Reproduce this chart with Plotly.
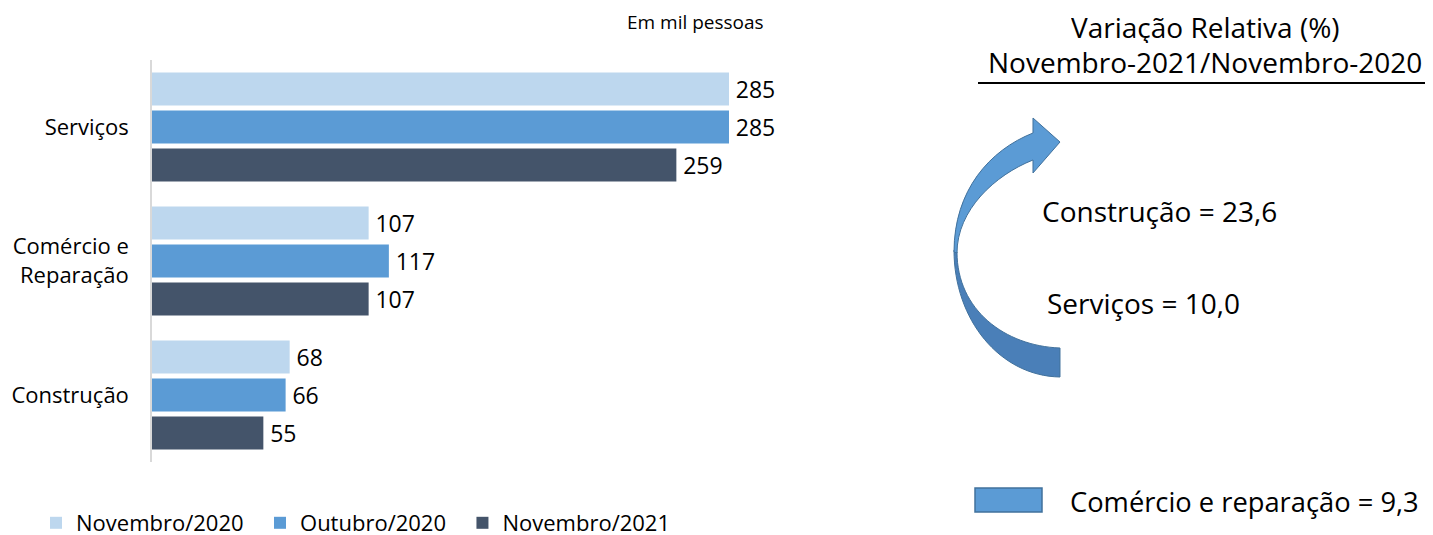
import plotly.graph_objects as go

W, H = 1433, 535

categories = ["Serviços", "Comércio e<br>Reparação", "Construção"]
series_names = ["Novembro/2020", "Outubro/2020", "Novembro/2021"]
nov2020 = [285, 107, 68]
out2020 = [285, 117, 66]
nov2021 = [259, 107, 55]
series_values = [nov2020, out2020, nov2021]
colors = ["#bdd7ee", "#5b9bd5", "#44546a"]

unit_label = "Em mil pessoas"
var_title = "Variação Relativa (%)"
var_subtitle = "Novembro-2021/Novembro-2020"
var_items = ["Construção = 23,6", "Serviços = 10,0", "Comércio e reparação = 9,3"]

FONT = "Open Sans"
TXT = "#000000"
OFF = 8  # page offset of the plot div


def px(x):
    return (x - OFF) / W


def py(y):
    return 1 - (y - OFF) / H


fig = go.Figure()
for name, vals, col in zip(series_names, series_values, colors):
    fig.add_trace(go.Bar(
        y=categories, x=vals, name=name + "\u00a0\u00a0", orientation="h",
        marker=dict(color=col, line=dict(width=0)),
        text=["\u2009" + str(v) for v in vals], textposition="outside",
        textfont=dict(family=FONT, size=23, color=TXT),
        constraintext="none", cliponaxis=False,
    ))

x_max = 300
fig.update_layout(
    width=W, height=H,
    margin=dict(l=0, r=0, t=0, b=0, autoexpand=False),
    paper_bgcolor="white", plot_bgcolor="white",
    barmode="group", bargap=0.15, bargroupgap=0.13,
    font=dict(family=FONT, color=TXT),
    xaxis=dict(domain=[px(152), px(152 + x_max * 577 / 285)], range=[0, x_max],
               visible=False, showgrid=False, zeroline=False),
    yaxis=dict(domain=[py(462), py(60)], autorange="reversed",
               showline=True, linecolor="#d9d9d9", linewidth=1.5,
               ticks="", ticklabelstandoff=17,
               tickfont=dict(family=FONT, size=22, color=TXT)),
    showlegend=True,
    legend=dict(orientation="h", x=px(36), y=py(523), yanchor="middle", xanchor="left",
                font=dict(family=FONT, size=22, color=TXT), itemwidth=30,
                traceorder="normal", bgcolor="rgba(0,0,0,0)"),
)

# annotations
fig.add_annotation(x=px(695), y=py(22), xref="paper", yref="paper", text=unit_label,
                   showarrow=False, xanchor="center", yanchor="middle",
                   font=dict(family=FONT, size=19, color=TXT))
fig.add_annotation(x=px(1205), y=py(8), xref="paper", yref="paper", text=var_title,
                   showarrow=False, xanchor="center", yanchor="top", height=33,
                   font=dict(family=FONT, size=28, color=TXT))
fig.add_annotation(x=px(1205), y=py(62), xref="paper", yref="paper", text=var_subtitle,
                   showarrow=False, xanchor="center", yanchor="middle",
                   font=dict(family=FONT, size=28, color=TXT))
fig.add_shape(type="line", xref="paper", yref="paper", x0=px(978), x1=px(1428),
              y0=py(83), y1=py(83), line=dict(color="black", width=2))

fig.add_annotation(x=px(1040), y=py(211), xref="paper", yref="paper", text=var_items[0],
                   showarrow=False, xanchor="left", yanchor="middle",
                   font=dict(family=FONT, size=28, color=TXT))
fig.add_annotation(x=px(1045), y=py(303), xref="paper", yref="paper", text=var_items[1],
                   showarrow=False, xanchor="left", yanchor="middle",
                   font=dict(family=FONT, size=28, color=TXT))
fig.add_annotation(x=px(1068), y=py(501), xref="paper", yref="paper", text=var_items[2],
                   showarrow=False, xanchor="left", yanchor="middle",
                   font=dict(family=FONT, size=27.3, color=TXT))
fig.add_shape(type="rect", xref="paper", yref="paper", x0=px(975), x1=px(1042),
              y0=py(512), y1=py(488), fillcolor="#5b9bd5", line=dict(color="#41719c", width=1.5))


def path(cmds):
    out = []
    for c in cmds:
        if c[0] == "Z":
            out.append("Z")
        else:
            pts = c[1:]
            s = " ".join(f"{px(pts[i]):.5f},{py(pts[i+1]):.5f}" for i in range(0, len(pts), 2))
            out.append(c[0] + " " + s)
    return " ".join(out)


upper = path([
    ("M", 954, 252),
    ("C", 954, 190, 990, 150, 1033, 133),
    ("L", 1033, 118),
    ("L", 1060, 142),
    ("L", 1033, 173),
    ("L", 1033, 160),
    ("C", 995, 175, 957, 210, 957, 253),
    ("Z",),
])
lower = path([
    ("M", 954, 250),
    ("C", 954, 320, 1000, 376, 1060, 377),
    ("L", 1060, 348),
    ("C", 1005, 346, 957, 310, 957, 252),
    ("Z",),
])
fig.add_shape(type="path", xref="paper", yref="paper", path=lower,
              fillcolor="#4a7fb8", line=dict(color="#41719c", width=1))
fig.add_shape(type="path", xref="paper", yref="paper", path=upper,
              fillcolor="#5b9bd5", line=dict(color="#41719c", width=1))

fig.write_html("out.html")
